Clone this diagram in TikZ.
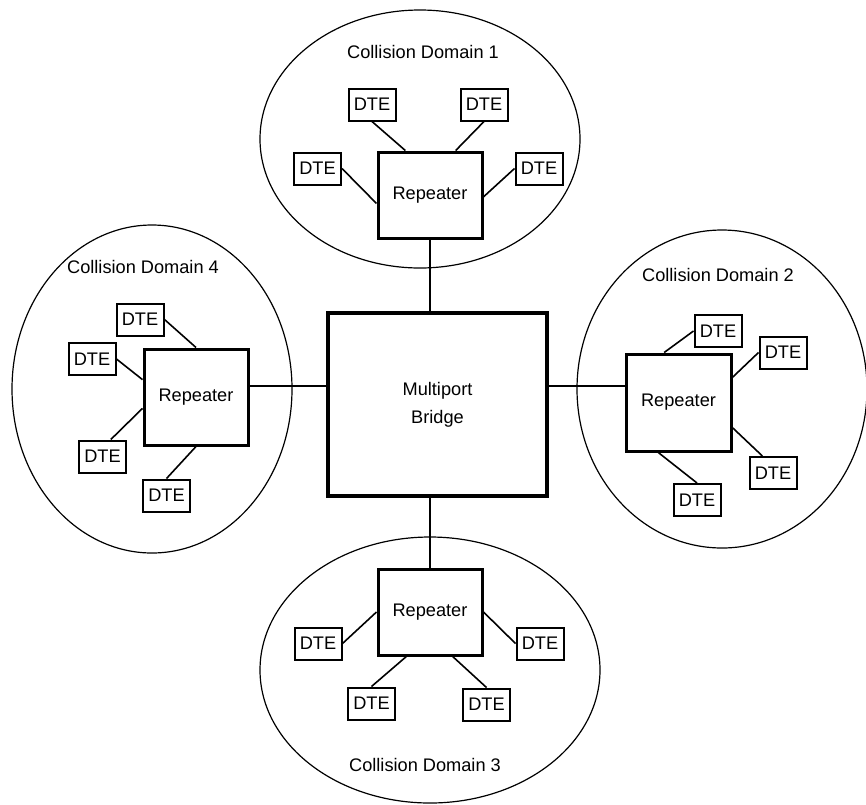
\documentclass[tikz,border=0pt]{standalone}
\usepackage{fontspec}
\setmainfont{Liberation Sans}
\usepackage{tikz}
\usetikzlibrary{calc}
\tikzstyle{dte}=[shape=rectangle, draw, line width=1pt, minimum width=23.5pt, minimum height=16pt, inner sep=0]
\tikzstyle{rep}=[shape=rectangle, draw, line width=1.5pt, minimum width=52pt, minimum height=43pt, inner sep=0]
\tikzstyle{bridge}=[shape=rectangle, draw, line width=2pt, minimum width=109.5pt, minimum height=91.5pt, inner sep=0, align=center]
\tikzstyle{link}=[line width=0.8pt]

\begin{document}
\begin{tikzpicture}[x=0.5pt, y=-0.5pt, font=\fontsize{9.1}{11}\selectfont]
\useasboundingbox (0,0) rectangle (866,804);
% collision domains
\draw[line width=0.6pt] (420,139) ellipse (160 and 129);
\draw[line width=0.6pt] (152,389) ellipse (140 and 164);
\draw[line width=0.6pt] (722,389) ellipse (145 and 159);
\draw[line width=0.6pt] (430,670) ellipse (170 and 133);
\node at (423,52)(lab1){Collision Domain 1};
\node at (718,275)(lab2){Collision Domain 2};
\node at (425,765)(lab3){Collision Domain 3};
\node at (143,267)(lab4){Collision Domain 4};
% bridge
\node at (437.5,404.5)[bridge](b){Multiport\\[3pt]Bridge};
% repeaters
\node at (430,195)[rep](r1){Repeater};
\node at (678.5,402.5)[rep, minimum width=52.5pt, minimum height=48.5pt](r2){Repeater};
\node at (430,612)[rep](r3){Repeater};
\node at (196,397)[rep, minimum height=48pt](r4){Repeater};
% stations
\node at (372,104.5)[dte](d1a){DTE};
\node at (484,104.5)[dte](d1b){DTE};
\node at (317.5,168.5)[dte](d1c){DTE};
\node at (539,168.5)[dte](d1d){DTE};
\node at (718,331)[dte](d2a){DTE};
\node at (783,352.5)[dte](d2b){DTE};
\node at (773,473)[dte](d2c){DTE};
\node at (697,500)[dte](d2d){DTE};
\node at (318,643.5)[dte](d3a){DTE};
\node at (540,643.5)[dte](d3b){DTE};
\node at (371.5,703.5)[dte](d3c){DTE};
\node at (486.5,704.5)[dte](d3d){DTE};
\node at (140,319.5)[dte](d4a){DTE};
\node at (92,359)[dte](d4b){DTE};
\node at (102.5,456.5)[dte](d4c){DTE};
\node at (166.5,495.5)[dte](d4d){DTE};
% repeater to bridge
\draw[line width=1pt] (r1.south)--(r1.south |- b.north);
\draw[line width=1pt] (r2.163)--(r2.163 -| b.east);
\draw[line width=1pt] (r3.north)--(r3.north |- b.south);
\draw[line width=1pt] (r4.12)--(r4.12 -| b.west);
% stations to repeaters
\draw[link] (d1a.south)--(r1.119);
\draw[link] (d1b.south)--(r1.60);
\draw[link] (d1c.east)--(r1.189);
\draw[link] (d1d.west)--(r1.358);
\draw[link] (d2a.west)--(r2.106);
\draw[link] (d2b.west)--(r2.25);
\draw[link] (d2c.122)--(r2.335);
\draw[link] (d2d.north)--(r2.248);
\draw[link] (d3a.east)--(r3.west);
\draw[link] (d3b.west)--(r3.east);
\draw[link] (d3c.north)--(r3.242);
\draw[link] (d3d.north)--(r3.297);
\draw[link] (d4a.east)--(r4.north);
\draw[link] (d4b.east)--(r4.162);
\draw[link] (d4c.64)--(r4.192);
\draw[link] (d4d.north)--(r4.south);
\end{tikzpicture}
\end{document}
